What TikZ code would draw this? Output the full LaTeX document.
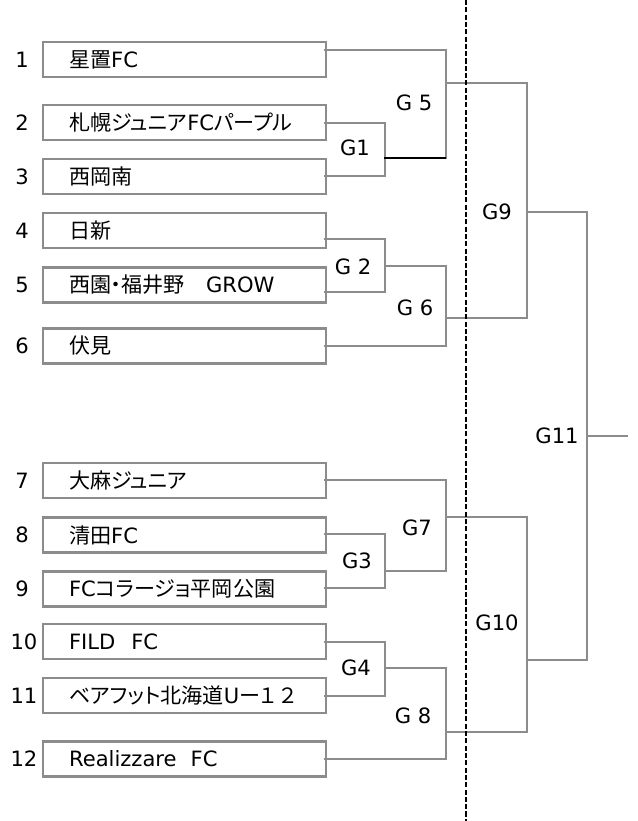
\documentclass[tikz,border=0pt]{standalone}
\usepackage{fontspec}
\setmainfont{DejaVu Sans}
\newfontfamily\jp[RawFeature=+palt]{Noto Sans CJK JP}
\usepackage{xcolor}
\usetikzlibrary{arrows,backgrounds,positioning}
\pgfdeclarelayer{edgelayer}
\pgfdeclarelayer{nodelayer}
\pgfsetlayers{nodelayer,main,edgelayer}
\definecolor{linegray}{RGB}{140,140,140}
\newcommand{\gfont}{\fontsize{15}{18}\selectfont}
\tikzset{
	joint/.style={inner sep=0pt, minimum size=0pt},
	team/.style={draw=linegray, line width=1.5pt, anchor=west, minimum width=7.075cm, minimum height=0.875cm, text width=5.775cm, inner xsep=0.65cm, inner ysep=0pt, align=left, font=\gfont},
	seed/.style={font=\gfont},
	game/.style={font=\gfont},
	bracket/.style={draw=linegray, line width=1.5pt, line cap=rect},
	winner/.style={draw=black, line width=1.7pt},
	divider/.style={draw=black, line width=1.7pt, dash pattern=on 3.6pt off 1.6pt}
}

\begin{document}
\begin{tikzpicture}
	\useasboundingbox (0, 0) rectangle (15.925, 20.525);
	\begin{pgfonlayer}{nodelayer}
		\node [style=team] (0) at (1.05, 19.0375) {{\jp 星置}FC};
		\node [style=team] (1) at (1.05, 17.46) {{\jp 札幌ジュニア}FC{\jp パープル}};
		\node [style=team] (2) at (1.05, 16.11) {{\jp 西岡南}};
		\node [style=team] (3) at (1.05, 14.76) {{\jp 日新}};
		\node [style=team] (4) at (1.05, 13.4) {{\jp 西園・福井野　}GROW};
		\node [style=team] (5) at (1.05, 11.875) {{\jp 伏見}};
		\node [style=team] (6) at (1.05, 8.51) {{\jp 大麻ジュニア}};
		\node [style=team] (7) at (1.05, 7.15) {{\jp 清田}FC};
		\node [style=team] (8) at (1.05, 5.8) {FC{\jp コラージョ平岡公園}};
		\node [style=team] (9) at (1.05, 4.4875) {FILD\hspace{0.4cm}FC};
		\node [style=team] (10) at (1.05, 3.1375) {\mbox{{\jp ベアフット北海道}U{\jp ー１}\hspace{0.1cm}{\jp ２}}};
		\node [style=team] (11) at (1.05, 1.55) {Realizzare\ \ FC};
		\node [style=seed] (12) at (0.55, 19.0375) {1};
		\node [style=seed] (13) at (0.55, 17.46) {2};
		\node [style=seed] (14) at (0.55, 16.11) {3};
		\node [style=seed] (15) at (0.55, 14.76) {4};
		\node [style=seed] (16) at (0.55, 13.4) {5};
		\node [style=seed] (17) at (0.55, 11.875) {6};
		\node [style=seed] (18) at (0.55, 8.51) {7};
		\node [style=seed] (19) at (0.55, 7.15) {8};
		\node [style=seed] (20) at (0.55, 5.8) {9};
		\node [style=seed] (21) at (0.6, 4.4875) {10};
		\node [style=seed] (22) at (0.6, 3.1375) {11};
		\node [style=seed] (23) at (0.6, 1.55) {12};
		\node [style=game] (24) at (8.875, 16.825) {G1};
		\node [style=game] (25) at (8.825, 13.85) {G 2};
		\node [style=game] (26) at (8.925, 6.5) {G3};
		\node [style=game] (27) at (8.9, 3.825) {G4};
		\node [style=game] (28) at (10.35, 17.95) {G 5};
		\node [style=game] (29) at (10.375, 12.825) {G 6};
		\node [style=game] (30) at (10.425, 7.325) {G7};
		\node [style=game] (31) at (10.325, 2.625) {G 8};
		\node [style=game] (32) at (12.425, 15.225) {G9};
		\node [style=game] (33) at (12.425, 4.95) {G10};
		\node [style=game] (34) at (13.925, 9.625) {G11};
		\node [style=joint] (35) at (8.125, 19.275) {};
		\node [style=joint] (36) at (11.15, 19.275) {};
		\node [style=joint] (37) at (11.15, 16.575) {};
		\node [style=joint] (38) at (9.6, 16.575) {};
		\node [style=joint] (39) at (8.125, 17.45) {};
		\node [style=joint] (40) at (9.625, 17.45) {};
		\node [style=joint] (41) at (8.125, 16.125) {};
		\node [style=joint] (42) at (9.625, 16.125) {};
		\node [style=joint] (43) at (11.15, 18.45) {};
		\node [style=joint] (44) at (13.175, 18.45) {};
		\node [style=joint] (45) at (8.125, 14.55) {};
		\node [style=joint] (46) at (9.625, 14.55) {};
		\node [style=joint] (47) at (8.125, 13.225) {};
		\node [style=joint] (48) at (9.625, 13.225) {};
		\node [style=joint] (49) at (9.625, 13.875) {};
		\node [style=joint] (50) at (11.15, 13.875) {};
		\node [style=joint] (51) at (8.125, 11.875) {};
		\node [style=joint] (52) at (11.15, 11.875) {};
		\node [style=joint] (53) at (11.15, 12.575) {};
		\node [style=joint] (54) at (13.175, 12.575) {};
		\node [style=joint] (55) at (13.175, 15.225) {};
		\node [style=joint] (56) at (14.675, 15.225) {};
		\node [style=joint] (57) at (14.675, 4.025) {};
		\node [style=joint] (58) at (13.175, 4.025) {};
		\node [style=joint] (59) at (14.675, 9.625) {};
		\node [style=joint] (60) at (15.675, 9.625) {};
		\node [style=joint] (61) at (8.125, 8.525) {};
		\node [style=joint] (62) at (11.15, 8.525) {};
		\node [style=joint] (63) at (8.125, 7.175) {};
		\node [style=joint] (64) at (9.625, 7.175) {};
		\node [style=joint] (65) at (8.125, 5.825) {};
		\node [style=joint] (66) at (9.625, 5.825) {};
		\node [style=joint] (67) at (9.625, 6.25) {};
		\node [style=joint] (68) at (11.15, 6.25) {};
		\node [style=joint] (69) at (11.15, 7.6) {};
		\node [style=joint] (70) at (13.175, 7.6) {};
		\node [style=joint] (71) at (8.125, 4.475) {};
		\node [style=joint] (72) at (9.625, 4.475) {};
		\node [style=joint] (73) at (8.125, 3.125) {};
		\node [style=joint] (74) at (9.625, 3.125) {};
		\node [style=joint] (75) at (9.625, 3.825) {};
		\node [style=joint] (76) at (11.15, 3.825) {};
		\node [style=joint] (77) at (8.125, 1.55) {};
		\node [style=joint] (78) at (11.15, 1.55) {};
		\node [style=joint] (79) at (11.15, 2.225) {};
		\node [style=joint] (80) at (13.175, 2.225) {};
		\node [style=joint] (81) at (11.65, 20.525) {};
		\node [style=joint] (82) at (11.65, 0) {};
	\end{pgfonlayer}
	\begin{pgfonlayer}{edgelayer}
		\draw [style=bracket] (35.center) to (36.center);
		\draw [style=bracket] (36.center) to (37.center);
		\draw [style=bracket] (39.center) to (40.center);
		\draw [style=bracket] (40.center) to (42.center);
		\draw [style=bracket] (41.center) to (42.center);
		\draw [style=winner] (38.center) to (37.center);
		\draw [style=bracket] (43.center) to (44.center);
		\draw [style=bracket] (44.center) to (54.center);
		\draw [style=bracket] (45.center) to (46.center);
		\draw [style=bracket] (46.center) to (48.center);
		\draw [style=bracket] (47.center) to (48.center);
		\draw [style=bracket] (49.center) to (50.center);
		\draw [style=bracket] (50.center) to (52.center);
		\draw [style=bracket] (51.center) to (52.center);
		\draw [style=bracket] (53.center) to (54.center);
		\draw [style=bracket] (55.center) to (56.center);
		\draw [style=bracket] (56.center) to (57.center);
		\draw [style=bracket] (57.center) to (58.center);
		\draw [style=bracket] (59.center) to (60.center);
		\draw [style=bracket] (61.center) to (62.center);
		\draw [style=bracket] (62.center) to (68.center);
		\draw [style=bracket] (63.center) to (64.center);
		\draw [style=bracket] (64.center) to (66.center);
		\draw [style=bracket] (65.center) to (66.center);
		\draw [style=bracket] (67.center) to (68.center);
		\draw [style=bracket] (69.center) to (70.center);
		\draw [style=bracket] (70.center) to (80.center);
		\draw [style=bracket] (71.center) to (72.center);
		\draw [style=bracket] (72.center) to (74.center);
		\draw [style=bracket] (73.center) to (74.center);
		\draw [style=bracket] (75.center) to (76.center);
		\draw [style=bracket] (76.center) to (78.center);
		\draw [style=bracket] (77.center) to (78.center);
		\draw [style=bracket] (79.center) to (80.center);
		\draw [style=divider] (81.center) to (82.center);
	\end{pgfonlayer}
\end{tikzpicture}
\end{document}
